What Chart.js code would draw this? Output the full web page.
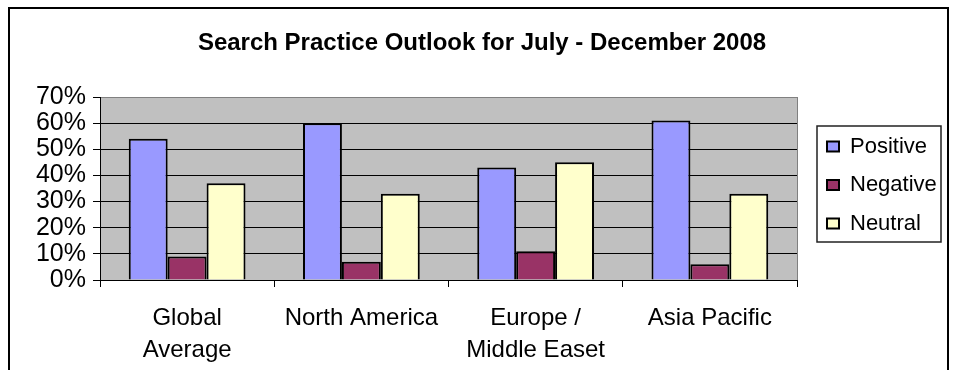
<!DOCTYPE html>
<html>
<head>
<meta charset="utf-8">
<script src="https://cdn.jsdelivr.net/npm/chart.js@4"></script>
<style>
  body { margin: 0; background: #fff; }
</style>
</head>
<body>
<canvas id="myChart" width="953" height="370"></canvas>
<script>
const regions = [['Global', 'Average'], 'North America', ['Europe /', 'Middle Easet'], 'Asia Pacific'];
const positive = [54, 60, 43, 61];
const negative = [9, 7, 11, 6];
const neutral = [37, 33, 45, 33];
const yTicks = [0, 10, 20, 30, 40, 50, 60, 70];

const FONT = "'Liberation Sans', Arial, sans-serif";

// grey plot area, outer frame and the legend box outline
const frame = {
  id: 'frame',
  beforeDraw(chart) {
    const { ctx, chartArea: a } = chart;
    ctx.save();
    ctx.fillStyle = '#c0c0c0';
    ctx.fillRect(a.left, a.top, a.width, a.height);
    ctx.strokeStyle = '#000';
    ctx.lineWidth = 2;
    ctx.strokeRect(9, 8, 939, 400);
    ctx.restore();
  },
  beforeDatasetsDraw(chart) {
    const { ctx, chartArea: a } = chart;
    ctx.save();
    ctx.strokeStyle = '#808080';
    ctx.lineWidth = 1;
    ctx.beginPath();
    ctx.moveTo(a.right + 0.5, a.top);
    ctx.lineTo(a.right + 0.5, a.bottom);
    ctx.stroke();
    ctx.restore();
  },
  afterLayout(chart) {
    const lg = chart.legend;
    const w = lg.width;
    lg.left = 810.5; lg.right = lg.left + w;
    lg.top = 119; lg.bottom = lg.top + 140;
  },
  afterDraw(chart) {
    const { ctx, legend: lg } = chart;
    ctx.save();
    ctx.strokeStyle = '#222';
    ctx.lineWidth = 1.5;
    ctx.strokeRect(lg.left + 6.5, lg.top + 7, 124, 116);
    ctx.restore();
  }
};

new Chart(document.getElementById('myChart'), {
  type: 'bar',
  data: {
    labels: regions,
    datasets: [
      { label: 'Positive', data: positive, backgroundColor: '#9999ff' },
      { label: 'Negative', data: negative, backgroundColor: '#993366' },
      { label: 'Neutral', data: neutral, backgroundColor: '#ffffcc' }
    ]
  },
  options: {
    responsive: false,
    animation: false,
    datasets: {
      bar: {
        borderColor: '#000',
        borderWidth: 2,
        categoryPercentage: 0.67,
        barPercentage: 1.0
      }
    },
    layout: { padding: { left: 11, right: 0, top: 0, bottom: 0 } },
    scales: {
      x: {
        grid: {
          offset: true,
          drawOnChartArea: false,
          tickLength: 7,
          color: '#000'
        },
        border: { color: '#000', width: 1 },
        ticks: {
          color: '#000',
          padding: 15,
          maxRotation: 0,
          autoSkip: false,
          font: { family: FONT, size: 24, lineHeight: 1.333 }
        },
        afterFit: s => { s.height = 90; }
      },
      y: {
        min: 0,
        max: 70,
        afterBuildTicks: s => { s.ticks = yTicks.map(v => ({ value: v })); },
        grid: {
          color: c => (c.tick && c.tick.value === 70 ? '#808080' : '#000'),
          tickColor: '#000',
          tickLength: 7,
          lineWidth: 1
        },
        border: { color: '#000', width: 1 },
        ticks: {
          color: '#000',
          padding: 7,
          autoSkip: false,
          font: { family: FONT, size: 25 },
          callback: v => v + '%'
        },
        afterFit: s => { s.width = 89; }
      },
      // keeps room on the right for the legend
      pad: {
        type: 'linear',
        position: 'right',
        grid: { display: false },
        border: { display: false },
        ticks: { display: false },
        afterFit: s => { s.width = 156; }
      }
    },
    plugins: {
      title: {
        display: true,
        text: 'Search Practice Outlook for July - December 2008',
        color: '#000',
        font: { family: FONT, size: 24, weight: 'bold', lineHeight: 1.2 },
        padding: { top: 29.3, bottom: 38.9 }
      },
      legend: {
        position: 'chartArea',
        align: 'start',
        labels: {
          color: '#000',
          boxWidth: 12,
          boxHeight: 10,
          padding: 16.5,
          font: { family: FONT, size: 22 }
        }
      },
      tooltip: { enabled: false }
    }
  },
  plugins: [frame]
});
</script>
</body>
</html>
